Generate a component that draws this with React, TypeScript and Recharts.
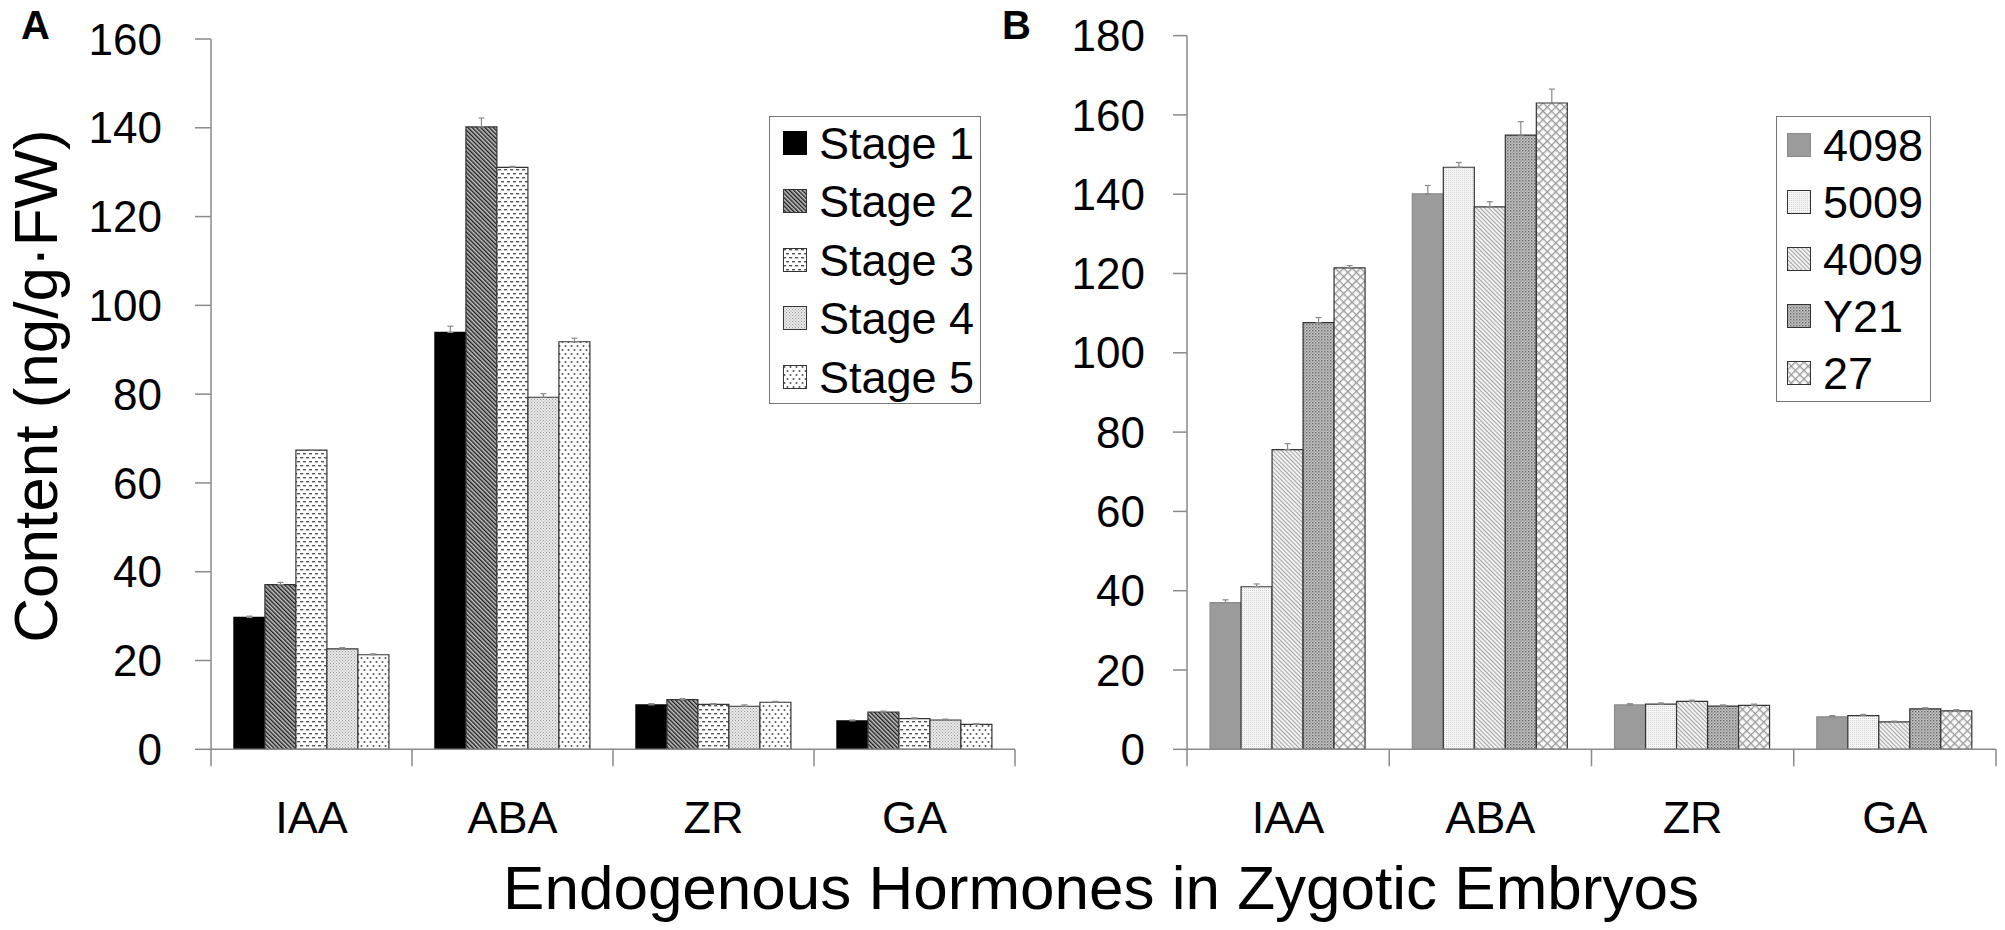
import React from 'react';
import { BarChart, Bar, XAxis, YAxis, ErrorBar, Legend } from 'recharts';

const categories = ['IAA', 'ABA', 'ZR', 'GA'];

// A: hormone content across the five developmental stages
const stageNames = ['Stage 1', 'Stage 2', 'Stage 3', 'Stage 4', 'Stage 5'];
const stage1 = [29.7, 93.9, 10.0, 6.4];
const stage2 = [37.1, 140.2, 11.2, 8.4];
const stage3 = [67.4, 131.1, 10.1, 6.9];
const stage4 = [22.6, 79.3, 9.7, 6.6];
const stage5 = [21.3, 91.8, 10.6, 5.6];
const stage1Err = [0.3, 1.4, 0.3, 0.2];
const stage2Err = [0.5, 2.0, 0.2, 0.2];
const stage3Err = [0.1, 0.2, 0.2, 0.2];
const stage4Err = [0.3, 0.8, 0.3, 0.2];
const stage5Err = [0.2, 0.8, 0.2, 0.2];
const ticksA = [0, 20, 40, 60, 80, 100, 120, 140, 160];

// B: hormone content in the five lines
const lineNames = ['4098', '5009', '4009', 'Y21', '27'];
const line4098 = [37.0, 140.1, 11.2, 8.2];
const line5009 = [41.0, 146.8, 11.4, 8.5];
const line4009 = [75.6, 136.8, 12.1, 6.9];
const lineY21 = [107.6, 154.9, 10.9, 10.2];
const line27 = [121.4, 163.0, 11.1, 9.7];
const line4098Err = [0.7, 2.1, 0.3, 0.3];
const line5009Err = [0.7, 1.2, 0.3, 0.3];
const line4009Err = [1.5, 1.3, 0.3, 0.2];
const lineY21Err = [1.3, 3.4, 0.3, 0.3];
const line27Err = [0.6, 3.5, 0.3, 0.3];
const ticksB = [0, 20, 40, 60, 80, 100, 120, 140, 160, 180];

const xTitle = 'Endogenous Hormones in Zygotic Embryos';
const yTitle = 'Content (ng/g·FW)';

const FONT = '"Liberation Sans", Arial, Helvetica, sans-serif';
const AXIS = '#8a8a8a';

const fillsA = ['#000', 'url(#pA2)', 'url(#pA3)', 'url(#pA4)', 'url(#pA5)'];
const strokesA = ['#000', '#333', '#333', '#333', '#333'];
const fillsB = ['#9b9b9b', 'url(#pB2)', 'url(#pB3)', 'url(#pB4)', 'url(#pB5)'];
const strokesB = ['#8a8a8a', '#333', '#333', '#333', '#333'];

const buildRows = (values: number[][], errors: number[][]) =>
    categories.map((name, i) => {
        const row: Record<string, any> = { name };
        values.forEach((series, k) => {
            row[`v${k}`] = series[i];
            row[`e${k}`] = [0, errors[k][i]];
        });
        return row;
    });

const dataA = buildRows([stage1, stage2, stage3, stage4, stage5], [stage1Err, stage2Err, stage3Err, stage4Err, stage5Err]);
const dataB = buildRows([line4098, line5009, line4009, lineY21, line27], [line4098Err, line5009Err, line4009Err, lineY21Err, line27Err]);

function Patterns() {
    return (
        <defs>
            <pattern id='pA2' width='3' height='3' patternUnits='userSpaceOnUse' patternTransform='rotate(-45)'>
                <rect width='3' height='3' fill='#c4c4c4' />
                <rect width='1.4' height='3' fill='#1e1e1e' />
            </pattern>
            <pattern id='pA3' width='6' height='8' patternUnits='userSpaceOnUse'>
                <rect width='6' height='8' fill='#fff' />
                <rect x='0' y='1' width='3.2' height='1.4' fill='#555' />
                <rect x='3' y='5' width='3.2' height='1.4' fill='#555' />
            </pattern>
            <pattern id='pA4' width='3' height='3' patternUnits='userSpaceOnUse'>
                <rect width='3' height='3' fill='#e8e8e8' />
                <rect x='0' y='0' width='1' height='1' fill='#9a9a9a' />
                <rect x='1.5' y='1.5' width='1' height='1' fill='#aaa' />
            </pattern>
            <pattern id='pA5' width='6' height='8' patternUnits='userSpaceOnUse'>
                <rect width='6' height='8' fill='#fff' />
                <circle cx='1.5' cy='2' r='1' fill='#555' />
                <circle cx='4.5' cy='6' r='1' fill='#555' />
            </pattern>
            <pattern id='pB2' width='2' height='2' patternUnits='userSpaceOnUse'>
                <rect width='2' height='2' fill='#f6f6f6' />
                <rect x='0' y='0' width='1' height='1' fill='#d2d2d2' />
            </pattern>
            <pattern id='pB3' width='3' height='3' patternUnits='userSpaceOnUse' patternTransform='rotate(-45)'>
                <rect width='3' height='3' fill='#f2f2f2' />
                <rect width='1' height='3' fill='#a4a4a4' />
            </pattern>
            <pattern id='pB4' width='3' height='3' patternUnits='userSpaceOnUse'>
                <rect width='3' height='3' fill='#c2c2c2' />
                <rect x='0' y='0' width='1.4' height='1.4' fill='#6a6a6a' />
                <rect x='1.5' y='1.5' width='1.2' height='1.2' fill='#8a8a8a' />
            </pattern>
            <pattern id='pB5' width='6' height='6' patternUnits='userSpaceOnUse' patternTransform='rotate(45)'>
                <rect width='6' height='6' fill='#fafafa' />
                <rect width='1.3' height='6' fill='#9a9a9a' />
                <rect width='6' height='1.3' fill='#9a9a9a' />
            </pattern>
        </defs>
    );
}

// category label in the middle of the band, tick marks on the band edges
const CategoryTick = (props: any) => {
    const { x, y, payload, index, visibleTicksCount } = props;
    const half = payload.offset || 100.5;
    const last = index === (visibleTicksCount ?? categories.length) - 1;
    return (
        <g>
            <line x1={x - half} y1={y} x2={x - half} y2={y + 17} stroke={AXIS} strokeWidth={1.5} />
            {last && <line x1={x + half} y1={y} x2={x + half} y2={y + 17} stroke={AXIS} strokeWidth={1.5} />}
            <text x={x} y={y + 84} textAnchor='middle' fontSize={45} fill='#000'>
                {payload.value}
            </text>
        </g>
    );
};

interface LegendBoxProps {
    names: string[];
    fills: string[];
    strokes: string[];
    width: number;
    height: number;
    rowHeight: number;
    padLeft: number;
}

function LegendBox({ names, fills, strokes, width, height, rowHeight, padLeft }: LegendBoxProps) {
    return (
        <div
            style={{
                width,
                height,
                boxSizing: 'border-box',
                border: '1.5px solid #777',
                background: '#fff',
                display: 'flex',
                flexDirection: 'column',
                justifyContent: 'center',
                overflow: 'visible',
                fontFamily: FONT,
            }}
        >
            {names.map((name, i) => (
                <div
                    key={name}
                    style={{ height: rowHeight, flex: 'none', display: 'flex', alignItems: 'center', paddingLeft: padLeft }}
                >
                    <svg width={25} height={25} style={{ display: 'block', flex: 'none' }}>
                        <rect x={0.5} y={0.5} width={23} height={23} fill={fills[i]} stroke={strokes[i]} strokeWidth={1} />
                    </svg>
                    <span style={{ fontSize: 45, lineHeight: 1, marginLeft: 11, color: '#000' }}>{name}</span>
                </div>
            ))}
        </div>
    );
}

export default function App() {
    const yAxisCommon = {
        axisLine: { stroke: AXIS, strokeWidth: 1.5 },
        tickLine: { stroke: AXIS, strokeWidth: 1.5 },
        tick: { fontSize: 44, fill: '#000', fontFamily: FONT },
        interval: 0 as const,
        allowDataOverflow: true,
    };
    const xAxisCommon = {
        dataKey: 'name',
        tickLine: false,
        tickSize: 0,
        tickMargin: 0,
        height: 100,
        interval: 0 as const,
        axisLine: { stroke: AXIS, strokeWidth: 1.5 },
        tick: (p: any) => <CategoryTick {...p} />,
    };

    return (
        <div style={{ position: 'relative', width: 2005, height: 930, background: '#fff', fontFamily: FONT, overflow: 'hidden' }}>
            <style>{`body { margin: 0; }`}</style>

            <div style={{ position: 'absolute', left: 0, top: 0 }}>
                <BarChart
                    width={1020}
                    height={930}
                    data={dataA}
                    margin={{ top: 39, right: 5, left: 0, bottom: 80.7 }}
                    barCategoryGap='11.4%'
                    barGap={0}
                >
                    <Patterns />
                    <XAxis {...xAxisCommon} />
                    <YAxis {...yAxisCommon} domain={[0, 160]} ticks={ticksA} width={211} tickSize={16} tickMargin={33} />
                    <Legend
                        layout='vertical'
                        align='center'
                        verticalAlign='middle'
                        wrapperStyle={{ left: 769, top: 116, width: 212, height: 288 }}
                        content={() => (
                            <LegendBox
                                names={stageNames}
                                fills={fillsA}
                                strokes={strokesA}
                                width={212}
                                height={288}
                                rowHeight={58.5}
                                padLeft={13}
                            />
                        )}
                    />
                    {stageNames.map((name, k) => (
                        <Bar
                            key={name}
                            dataKey={`v${k}`}
                            name={name}
                            fill={fillsA[k]}
                            stroke={strokesA[k]}
                            strokeWidth={1.2}
                            isAnimationActive={false}
                        >
                            <ErrorBar dataKey={`e${k}`} direction='y' width={3} stroke='#8a8a8a' strokeWidth={1.2} isAnimationActive={false} />
                        </Bar>
                    ))}
                </BarChart>
            </div>

            <div style={{ position: 'absolute', left: 1000, top: 0 }}>
                <BarChart
                    width={1000}
                    height={930}
                    data={dataB}
                    margin={{ top: 35.6, right: 4, left: 0, bottom: 80.7 }}
                    barCategoryGap='11.4%'
                    barGap={0}
                >
                    <XAxis {...xAxisCommon} />
                    <YAxis {...yAxisCommon} domain={[0, 180]} ticks={ticksB} width={187} tickSize={14} tickMargin={28} />
                    <Legend
                        layout='vertical'
                        align='center'
                        verticalAlign='middle'
                        wrapperStyle={{ left: 776, top: 116, width: 155, height: 286 }}
                        content={() => (
                            <LegendBox
                                names={lineNames}
                                fills={fillsB}
                                strokes={strokesB}
                                width={155}
                                height={286}
                                rowHeight={57}
                                padLeft={10}
                            />
                        )}
                    />
                    {lineNames.map((name, k) => (
                        <Bar
                            key={name}
                            dataKey={`v${k}`}
                            name={name}
                            fill={fillsB[k]}
                            stroke={strokesB[k]}
                            strokeWidth={1.2}
                            isAnimationActive={false}
                        >
                            <ErrorBar dataKey={`e${k}`} direction='y' width={3} stroke='#8a8a8a' strokeWidth={1.2} isAnimationActive={false} />
                        </Bar>
                    ))}
                </BarChart>
            </div>

            <svg width={2005} height={930} style={{ position: 'absolute', left: 0, top: 0, pointerEvents: 'none' }}>
                <text x={21} y={39} fontSize={40} fontWeight='bold' fill='#000'>A</text>
                <text x={1002} y={39} fontSize={40} fontWeight='bold' fill='#000'>B</text>
                <text transform='translate(57,386) rotate(-90)' textAnchor='middle' fontSize={62} fill='#000'>
                    {yTitle}
                </text>
                <text x={1101} y={909} textAnchor='middle' fontSize={62} fill='#000'>
                    {xTitle}
                </text>
            </svg>
        </div>
    );
}
